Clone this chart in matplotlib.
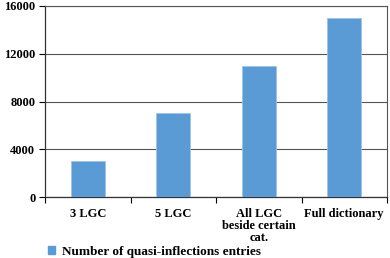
import matplotlib
matplotlib.use("Agg")
from matplotlib import pyplot as plt
from matplotlib.patches import Patch
import numpy as np

categories = ["3 LGC", "5 LGC", "All LGC\nbeside certain\ncat.", "Full dictionary"]
entries = [3000, 7000, 11000, 15000]
yticks = [0, 4000, 8000, 12000, 16000]

plt.rcParams['font.family'] = ['Liberation Serif', 'DejaVu Serif']
plt.rcParams['font.weight'] = 'bold'

fig = plt.figure(figsize=(3.9, 2.58), dpi=100)
ax = fig.add_axes([45 / 390, 1 - 197 / 258, 342 / 390, 191 / 258])

x = np.arange(len(categories))
bar_color = "#5B9BD5"
ax.bar(x, entries, width=0.4, color=bar_color, edgecolor="#9DC3E6", linewidth=0.6, zorder=3)

ax.set_xlim(-0.5, len(categories) - 0.5)
ax.set_ylim(0, 16000)
ax.set_yticks(yticks)
ax.set_yticklabels([str(v) for v in yticks], fontsize=9, fontweight='bold')
ax.set_xticks(x)
ax.set_xticklabels(categories, fontsize=9, fontweight='bold', linespacing=1.0)
ax.tick_params(axis='x', length=0, pad=8)
ax.set_xticks(np.arange(-0.5, len(categories)), minor=True)
ax.tick_params(axis='x', which='minor', length=4, direction='out', width=0.8)
ax.tick_params(axis='y', length=4, direction='out', width=0.8, pad=3)

ax.yaxis.grid(True, color="#555555", linewidth=0.8, zorder=0)
for side in ['top', 'right']:
    ax.spines[side].set_color("#555555")
    ax.spines[side].set_linewidth(0.8)
for side in ['left', 'bottom']:
    ax.spines[side].set_color("#333333")
    ax.spines[side].set_linewidth(0.9)

handle = Patch(facecolor=bar_color, edgecolor=bar_color)
fig.legend([handle], ["Number of quasi-inflections entries"], loc='lower left',
           bbox_to_anchor=(36 / 390, -0.045), frameon=False,
           handlelength=0.55, handleheight=0.55, handletextpad=0.5,
           prop={'weight': 'bold', 'size': 9.5})

fig.savefig("out.png", dpi=100, facecolor="white")
